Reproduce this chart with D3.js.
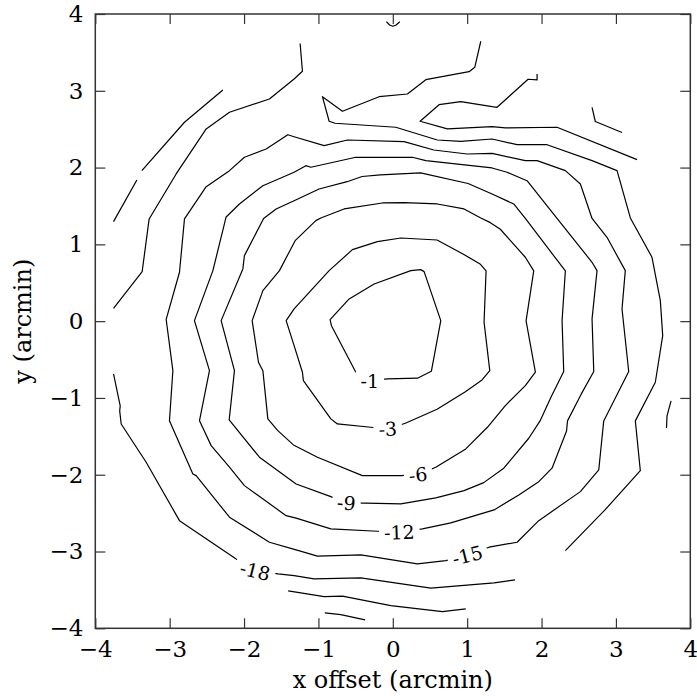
<!DOCTYPE html>
<html>
<head>
<meta charset="utf-8">
<script src="https://cdn.jsdelivr.net/npm/d3@7"></script>
<style>
  body { margin: 0; background: #fff; }
  text { font-family: "DejaVu Serif", serif; }
</style>
</head>
<body>
<div id="chart"></div>
<script>
// contour paths, in arcmin
const contour_1 = [[-0.073,-0.753],[0.331,-0.743],[0.519,-0.652],[0.645,0.007],[0.421,0.645],[0.376,0.671],[0.242,0.658],[-0.251,0.484],[-0.587,0.289],[-0.843,0.020],[-0.825,-0.059],[-0.497,-0.665],[-0.309,-0.775]];
const contour_3 = [[0.169,-1.329],[0.595,-1.147],[0.976,-0.918],[1.200,-0.766],[1.304,-0.645],[1.227,-0.014],[1.254,0.654],[1.173,0.745],[0.931,0.882],[0.595,1.057],[0.108,1.083],[-0.207,1.035],[-0.543,0.931],[-0.856,0.658],[-1.327,0.159],[-1.434,0.007],[-1.327,-0.319],[-1.215,-0.665],[-1.202,-0.775],[-0.833,-1.273],[-0.745,-1.339],[-0.296,-1.382],[-0.067,-1.404]];
const contour_6 = [[0.578,-1.902],[0.981,-1.664],[1.272,-1.382],[1.513,-1.100],[1.782,-0.840],[1.917,-0.665],[1.792,0.003],[1.895,0.654],[1.782,0.832],[1.446,1.197],[1.312,1.283],[1.183,1.344],[0.958,1.461],[0.599,1.526],[0.152,1.543],[-0.140,1.539],[-0.655,1.461],[-0.968,1.344],[-1.035,1.309],[-1.313,1.048],[-1.524,0.658],[-1.747,0.397],[-1.891,0.007],[-1.806,-0.535],[-1.747,-0.645],[-1.680,-1.273],[-1.546,-1.426],[-1.336,-1.612],[-1.013,-1.772],[-0.409,-2.012],[0.108,-2.012],[0.340,-1.999]];
const contour_9 = [[-0.363,-2.371],[0.108,-2.380],[0.578,-2.302],[0.958,-2.207],[1.223,-2.103],[1.492,-1.915],[1.828,-1.525],[1.980,-1.299],[2.128,-0.987],[2.298,-0.655],[2.276,0.007],[2.320,0.654],[1.782,1.337],[1.626,1.526],[1.335,1.656],[1.012,1.793],[0.374,1.930],[-0.167,1.904],[-0.413,1.884],[-0.614,1.816],[-0.991,1.721],[-1.327,1.569],[-1.569,1.461],[-1.737,1.337],[-1.995,0.853],[-2.016,0.680],[-2.308,0.007],[-2.129,-0.645],[-2.200,-1.286],[-1.793,-1.772],[-1.300,-2.120],[-0.833,-2.285],[-0.624,-2.367]];
const contour_12 = [[0.398,-2.706],[0.780,-2.628],[1.362,-2.458],[1.694,-2.263],[1.962,-2.090],[2.141,-1.915],[2.336,-1.430],[2.349,-1.299],[2.531,-0.954],[2.702,-0.655],[2.679,0.029],[2.746,0.658],[2.679,0.767],[2.208,1.337],[1.805,1.829],[1.536,1.939],[1.335,1.995],[0.444,2.090],[0.263,2.134],[-0.497,2.134],[-1.102,2.004],[-1.169,2.025],[-1.327,1.939],[-1.747,1.764],[-2.062,1.526],[-2.241,1.357],[-2.419,0.658],[-2.667,0.007],[-2.465,-0.645],[-2.599,-1.296],[-2.442,-1.621],[-2.196,-1.902],[-1.995,-2.142],[-1.434,-2.533],[-1.300,-2.566],[-0.833,-2.706],[-0.207,-2.736],[0.089,-2.749]];
const contour_15 = [[1.294,-2.944],[1.671,-2.879],[1.962,-2.598],[2.522,-2.220],[2.769,-1.938],[2.836,-1.299],[3.172,-0.655],[3.082,0.159],[3.126,0.658],[2.880,1.092],[2.679,1.337],[2.522,1.786],[2.320,1.960],[1.940,2.090],[1.782,2.090],[1.335,2.186],[0.999,2.177],[0.551,2.229],[0.152,2.337],[-0.610,2.359],[-0.923,2.285],[-1.327,2.402],[-1.411,2.428],[-1.703,2.242],[-1.995,2.134],[-2.196,1.960],[-2.509,1.751],[-2.801,1.331],[-2.868,0.637],[-3.047,0.022],[-2.957,-0.645],[-3.003,-1.296],[-2.688,-1.990],[-2.644,-2.012],[-2.196,-2.553],[-1.659,-2.879],[-1.300,-2.979],[-1.013,-3.061],[-0.430,-3.044],[0.331,-3.161],[0.712,-3.118],[1.005,-3.051]];

// the outer levels are cut by the edge of the map
const contour_18 = [
  [[-3.755,0.165],[-3.370,0.645],[-3.276,1.331],[-2.913,1.917],[-2.509,2.503],[-2.196,2.720],[-1.659,2.893],[-1.327,3.154],[-1.215,3.254],[-1.246,3.616]],
  [[-3.755,-0.688],[-3.665,-1.104],[-3.672,-1.169],[-3.652,-1.339],[-3.316,-1.837],[-2.868,-2.598],[-2.106,-3.096],[-1.851,-3.253],[-1.542,-3.292],[-1.327,-3.314],[-1.058,-3.357],[-0.430,-3.344],[0.511,-3.478],[1.362,-3.409],[1.644,-3.370]],
  [[1.183,3.645],[1.102,3.306],[1.026,3.249],[0.444,3.145],[0.196,2.958],[-0.184,2.923],[-0.677,2.733],[-0.946,2.923],[-0.856,2.603],[-0.776,2.577],[0.040,2.525],[0.599,2.359],[0.914,2.342],[1.335,2.372],[1.671,2.298],[2.074,2.298],[2.679,2.090],[3.015,1.960],[3.194,1.344],[3.485,0.832],[3.597,0.267],[3.629,-0.189],[3.530,-0.796],[3.261,-1.299],[3.328,-1.947],[2.853,-2.458],[2.320,-2.988]]
];
const contour_21 = [
  [[-3.755,1.296],[-3.441,1.839]],
  [[-3.374,1.960],[-2.801,2.590],[-2.285,3.010]],
  [[1.940,3.219],[1.940,3.141],[1.819,3.150],[1.402,2.785],[1.335,2.793],[0.914,2.858],[0.622,2.819],[0.367,2.603],[0.734,2.503],[1.335,2.533],[1.513,2.516],[2.208,2.525],[3.284,2.103]],
  [[2.679,2.785],[2.723,2.600],[3.082,2.457]],
  [[-1.407,-3.513],[-1.300,-3.530],[-0.923,-3.587],[-0.677,-3.582],[-0.027,-3.704],[0.667,-3.783],[0.981,-3.747]],
  [[3.741,-1.039],[3.687,-1.234],[3.680,-1.391]]
];
const contour_24 = [
  [[-0.914,-3.799],[-0.699,-3.822],[-0.372,-3.891]],
  [[-0.086,3.900],[-0.043,3.857],[0,3.841],[0.044,3.857],[0.094,3.900]]
];

// inline labels
const labelLevels = [-1, -3, -6, -9, -12, -15, -18];
const labelX = [-0.309, -0.067, 0.340, -0.624, 0.089, 1.005, -1.851];
const labelY = [-0.775, -1.404, -1.999, -2.367, -2.749, -3.051, -3.253];
const labelAngle = [0, -3, -6, 5, -2, -14, 14];

const xTicks = [-4, -3, -2, -1, 0, 1, 2, 3, 4];
const yTicks = [-4, -3, -2, -1, 0, 1, 2, 3, 4];

const width = 697, height = 700;
const margin = {left: 95.3, right: 6.7, top: 14, bottom: 71.7};
const axisColor = '#333';

var svg = d3.select('#chart').append('svg')
  .attr('width', width)
  .attr('height', height);

var x = d3.scaleLinear().domain([-4, 4]).range([margin.left, width - margin.right]);
var y = d3.scaleLinear().domain([-4, 4]).range([height - margin.bottom, margin.top]);

var openLine = d3.line().x(d => x(d[0])).y(d => y(d[1]));
var closedLine = d3.line().x(d => x(d[0])).y(d => y(d[1])).curve(d3.curveLinearClosed);

// draw contours
var contours = svg.append('g')
  .attr('fill', 'none')
  .attr('stroke', '#000')
  .attr('stroke-width', 1.2)
  .attr('stroke-linejoin', 'round');

[contour_1, contour_3, contour_6, contour_9, contour_12, contour_15].forEach(function(c){
  contours.append('path').attr('d', closedLine(c));
});
contour_18.concat(contour_21, contour_24).forEach(function(c){
  contours.append('path').attr('d', openLine(c));
});

// labels sit on a white patch that breaks the line
labelLevels.forEach(function(level, i){
  var g = svg.append('g')
    .attr('transform', `translate(${x(labelX[i])},${y(labelY[i])}) rotate(${labelAngle[i]})`);
  var t = g.append('text')
    .text(String(level))
    .attr('text-anchor', 'middle')
    .attr('dy', '0.36em')
    .style('font-size', '19px');
  var w = t.node().getComputedTextLength();
  g.insert('rect', 'text')
    .attr('x', -w / 2 - 5)
    .attr('y', -9)
    .attr('width', w + 10)
    .attr('height', 18)
    .attr('fill', '#fff');
});

// axes, ticks pointing in on all four sides
function styleAxis(g){
  g.select('.domain').remove();
  g.selectAll('.tick line').attr('stroke', axisColor).attr('stroke-width', 1.2);
  g.selectAll('.tick text').attr('fill', '#000').style('font-size', '23px');
}

svg.append('g')
  .attr('transform', `translate(0,${y(-4)})`)
  .call(d3.axisBottom(x).tickValues(xTicks).tickSize(-10).tickPadding(12))
  .call(styleAxis);

svg.append('g')
  .attr('transform', `translate(${x(-4)},0)`)
  .call(d3.axisLeft(y).tickValues(yTicks).tickSize(-10).tickPadding(12))
  .call(styleAxis);

svg.append('g')
  .attr('transform', `translate(0,${y(4)})`)
  .call(d3.axisTop(x).tickValues(xTicks).tickSize(-10).tickFormat(''))
  .call(styleAxis);

svg.append('g')
  .attr('transform', `translate(${x(4)},0)`)
  .call(d3.axisRight(y).tickValues(yTicks).tickSize(-10).tickFormat(''))
  .call(styleAxis);

svg.append('rect')
  .attr('x', x(-4))
  .attr('y', y(4))
  .attr('width', x(4) - x(-4))
  .attr('height', y(-4) - y(4))
  .attr('fill', 'none')
  .attr('stroke', axisColor)
  .attr('stroke-width', 1.5);

// axis titles
svg.append('text')
  .text('x offset (arcmin)')
  .attr('x', x(0))
  .attr('y', 688)
  .attr('text-anchor', 'middle')
  .style('font-size', '24px');

svg.append('text')
  .text('y (arcmin)')
  .attr('transform', `translate(31,${y(0)}) rotate(-90)`)
  .attr('text-anchor', 'middle')
  .style('font-size', '24px');
</script>
</body>
</html>
